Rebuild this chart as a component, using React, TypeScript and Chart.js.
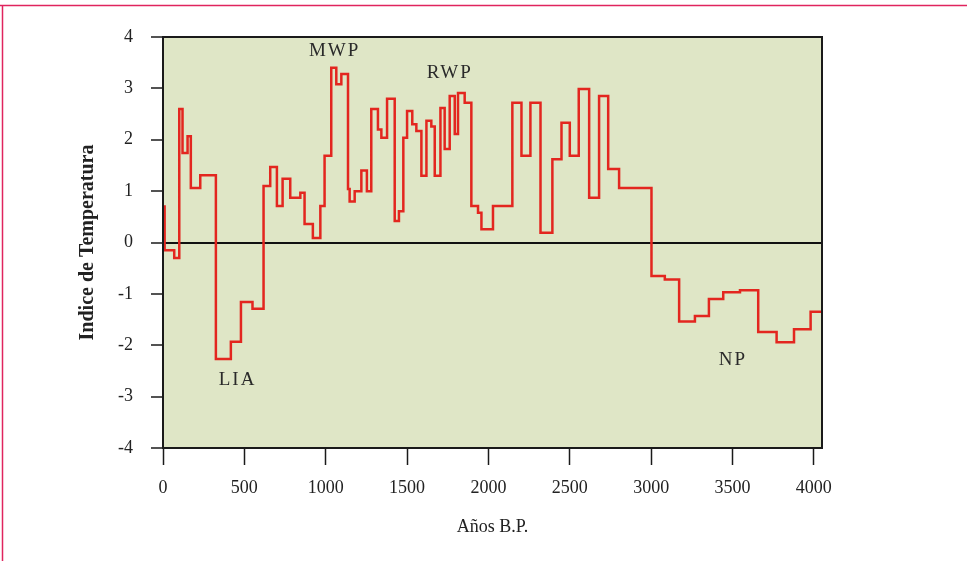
import React, { useEffect, useRef } from "react";
import { Chart, registerables } from "chart.js";

Chart.register(...registerables);

// Step start years (B.P.) and the temperature index holding from each start
const stepStartYears = [
  0, 10, 69, 100, 120, 151, 171, 229, 325, 417, 479, 550, 618, 659, 700, 735,
  782, 844, 870, 921, 967, 993, 1034, 1065, 1096, 1137, 1147, 1178, 1219, 1253,
  1280, 1321, 1342, 1377, 1424, 1450, 1477, 1500, 1532, 1557, 1588, 1619, 1649,
  1670, 1705, 1731, 1762, 1793, 1813, 1854, 1895, 1936, 1957, 2028, 2147, 2203,
  2258, 2320, 2393, 2449, 2500, 2555, 2619, 2680, 2736, 2803, 3002, 3084, 3172,
  3269, 3355, 3443, 3546, 3658, 3771, 3878, 3980,
];
const stepValues = [
  0.7, -0.15, -0.3, 2.6, 1.74, 2.07, 1.06, 1.31, -2.27, -1.93, -1.16, -1.29,
  1.1, 1.47, 0.71, 1.24, 0.87, 0.97, 0.36, 0.09, 0.71, 1.69, 3.4, 3.08, 3.28,
  1.04, 0.8, 1.0, 1.4, 1.0, 2.6, 2.2, 2.04, 2.8, 0.42, 0.61, 2.04, 2.56, 2.3,
  2.17, 1.3, 2.37, 2.26, 1.3, 2.62, 1.82, 2.85, 2.11, 2.91, 2.72, 0.71, 0.58,
  0.26, 0.71, 2.72, 1.69, 2.72, 0.19, 1.62, 2.33, 1.69, 2.99, 0.87, 2.85, 1.43,
  1.06, -0.65, -0.72, -1.54, -1.43, -1.1, -0.97, -0.93, -1.74, -1.94, -1.69,
  -1.35,
];
const seriesEndYear = 4050;

const xMin = 0;
const xMax = 4050;
const xTickValues = [0, 500, 1000, 1500, 2000, 2500, 3000, 3500, 4000];
const yMin = -4;
const yMax = 4;
const yTickValues = [-4, -3, -2, -1, 0, 1, 2, 3, 4];

const periodLabels = ["MWP", "RWP", "LIA", "NP"];
const periodLabelYears = [1055, 1762, 458, 3502];
const periodLabelValues = [3.72, 3.29, -2.68, -2.29];

const xTitle = "Años B.P.";
const yTitle = "Indice de Temperatura";

const SERIF = '"Liberation Serif", "Times New Roman", serif';

export default function App() {
  const canvasRef = useRef<HTMLCanvasElement | null>(null);

  useEffect(() => {
    document.body.style.margin = "0";
    const canvas = canvasRef.current;
    if (!canvas) return;

    const points = stepStartYears.map((x, i) => ({ x, y: stepValues[i] }));
    points.push({ x: seriesEndYear, y: stepValues[stepValues.length - 1] });

    const decorPlugin = {
      id: "decor",
      beforeDraw(chart: any) {
        const { ctx, chartArea: a, width, height } = chart;
        ctx.save();
        ctx.fillStyle = "#ffffff";
        ctx.fillRect(0, 0, width, height);
        ctx.strokeStyle = "#e0245e";
        ctx.lineWidth = 1.5;
        ctx.beginPath();
        ctx.moveTo(0, 5.5);
        ctx.lineTo(width, 5.5);
        ctx.moveTo(2.5, 5.5);
        ctx.lineTo(2.5, height);
        ctx.stroke();
        ctx.fillStyle = "#dfe6c6";
        ctx.fillRect(a.left, a.top, a.right - a.left, a.bottom - a.top);
        ctx.restore();
      },
      afterDatasetsDraw(chart: any) {
        const { ctx, chartArea: a, scales } = chart;
        ctx.save();
        ctx.strokeStyle = "#1a1a1a";
        ctx.lineWidth = 2;
        ctx.strokeRect(a.left, a.top, a.right - a.left, a.bottom - a.top);
        ctx.fillStyle = "#2a2a2a";
        ctx.font = `19px ${SERIF}`;
        (ctx as any).letterSpacing = "2px";
        ctx.textAlign = "center";
        ctx.textBaseline = "middle";
        periodLabels.forEach((t, i) => {
          const px = scales.x.getPixelForValue(periodLabelYears[i]);
          const py = scales.y.getPixelForValue(periodLabelValues[i]);
          ctx.fillText(t, px, py);
        });
        ctx.restore();
      },
    };

    const chart = new Chart(canvas, {
      type: "line",
      data: {
        datasets: [
          {
            data: points,
            stepped: "before",
            borderColor: "#e3261f",
            borderWidth: 2.5,
            pointRadius: 0,
            fill: false,
          },
        ],
      },
      options: {
        animation: false,
        responsive: false,
        maintainAspectRatio: false,
        layout: { padding: { left: 0, top: 37, right: 145, bottom: 0 } },
        plugins: {
          legend: { display: false },
          tooltip: { enabled: false },
        },
        scales: {
          x: {
            type: "linear",
            min: xMin,
            max: xMax,
            border: { display: false },
            grid: {
              color: "transparent",
              tickColor: "#1a1a1a",
              tickLength: 17,
              tickWidth: 1.5,
            },
            afterBuildTicks: (s: any) => {
              s.ticks = xTickValues.map((v) => ({ value: v }));
            },
            ticks: {
              padding: 12,
              color: "#222",
              font: { family: SERIF, size: 18 },
              maxRotation: 0,
              autoSkip: false,
              callback: (v: any) => String(v),
            },
            title: {
              display: true,
              text: xTitle,
              color: "#222",
              font: { family: SERIF, size: 18 },
              padding: { top: 0, bottom: 23 },
            },
            afterFit: (s: any) => {
              s.height = 113;
            },
          },
          y: {
            type: "linear",
            min: yMin,
            max: yMax,
            border: { display: false },
            grid: {
              color: (c: any) => (c.tick && c.tick.value === 0 ? "#111" : "transparent"),
              lineWidth: 2,
              tickColor: "#1a1a1a",
              tickLength: 12,
              tickWidth: 1.5,
            },
            afterBuildTicks: (s: any) => {
              s.ticks = yTickValues.map((v) => ({ value: v }));
            },
            ticks: {
              padding: 18,
              color: "#222",
              font: { family: SERIF, size: 18 },
              autoSkip: false,
              callback: (v: any) => String(v),
            },
            title: {
              display: true,
              text: yTitle,
              color: "#222",
              font: { family: SERIF, size: 20, weight: "bold" },
              padding: { top: 76, bottom: 0 },
            },
            afterFit: (s: any) => {
              s.width = 163;
            },
          },
        },
      },
      plugins: [decorPlugin],
    } as any);

    return () => chart.destroy();
  }, []);

  return (
    <div style={{ width: 967, height: 561 }}>
      <canvas ref={canvasRef} width={967} height={561} style={{ display: "block" }} />
    </div>
  );
}
